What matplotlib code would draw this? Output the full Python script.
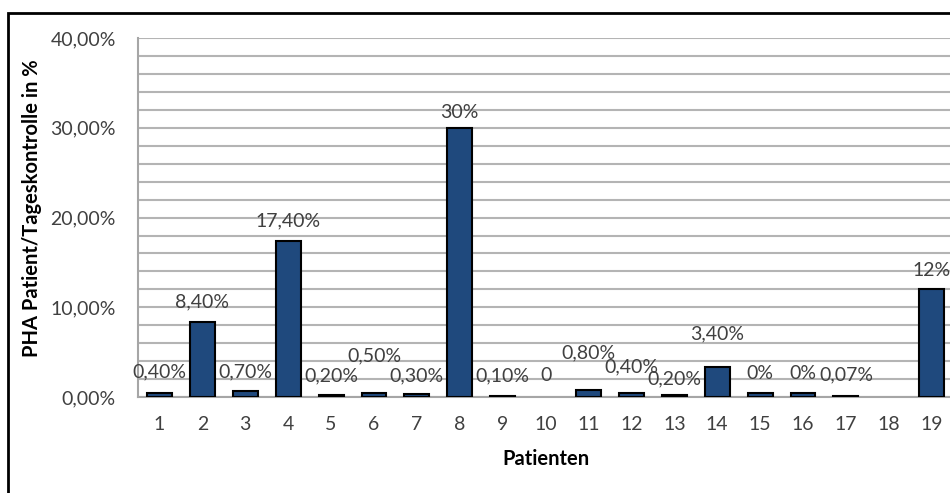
import matplotlib
matplotlib.use('Agg')
import matplotlib.pyplot as plt
from matplotlib.patches import Rectangle
from matplotlib.ticker import MultipleLocator, FuncFormatter

plt.rcParams['font.family'] = ['Lato', 'DejaVu Sans']

patients = list(range(1, 20))
# PHA patient / daily control ratio, in percent (patient 18 has no value)
values = [0.40, 8.40, 0.70, 17.40, 0.20, 0.50, 0.30, 30.0, 0.10, 0.0,
          0.80, 0.40, 0.20, 3.40, 0.40, 0.40, 0.07, None, 12.0]
labels = ['0,40%', '8,40%', '0,70%', '17,40%', '0,20%', '0,50%', '0,30%', '30%',
          '0,10%', '0', '0,80%', '0,40%', '0,20%', '3,40%', '0%', '0%', '0,07%',
          '', '12%']

# height (in %) where each data label sits, nudged by hand so they don't collide
label_y = [2.8, 10.6, 2.8, 19.6, 2.35, 4.6, 2.35, 31.75, 2.35, 2.35,
           4.9, 3.35, 2.0, 7.0, 2.65, 2.65, 2.45, 0, 14.15]

fig = plt.figure(figsize=(9.5, 4.93), dpi=100)
ax = fig.add_axes([0.1453, 0.1947, 0.858, 0.728])

# empty and zero entries get no bar at all
bx = [p for p, v in zip(patients, values) if v]
bh = [v for v in values if v]
ax.bar(bx, bh, width=0.58, color='#1F497D', edgecolor='black',
       linewidth=1.5, zorder=3)

for x, txt, y in zip(patients, labels, label_y):
    if txt:
        ax.text(x, y, txt, ha='center', va='center', fontsize=14,
                color='#404040', zorder=4)

ax.set_xlim(0.5, 19.5)
ax.set_ylim(0, 40)
ax.yaxis.set_major_locator(MultipleLocator(10))
ax.yaxis.set_minor_locator(MultipleLocator(2))
ax.yaxis.set_major_formatter(FuncFormatter(lambda v, p: f'{v:.2f}%'.replace('.', ',')))
ax.set_xticks(patients)
ax.grid(axis='y', which='both', color='#b4b4b4', linewidth=1.5, zorder=0)

for side in ['top', 'right']:
    ax.spines[side].set_visible(False)
for side in ['left', 'bottom']:
    ax.spines[side].set_color('#a6a6a6')
    ax.spines[side].set_linewidth(1.5)

ax.tick_params(axis='both', which='both', length=0, labelsize=14,
               labelcolor='#404040')
ax.tick_params(axis='y', pad=16)
ax.tick_params(axis='x', pad=14)

ax.set_xlabel('Patienten', fontsize=14.5, fontweight='bold', va='center')
ax.xaxis.set_label_coords(0.5, -0.173)
ax.set_ylabel('PHA Patient/Tageskontrolle in %', fontsize=14.5,
              fontweight='bold', va='center')
ax.yaxis.set_label_coords(-0.1307, 0.526)

# outer chart frame
fig.patches.append(Rectangle((8 / 950, -0.1), 1.2, (493 - 13) / 493 + 0.1,
                             transform=fig.transFigure, fill=False,
                             edgecolor='black', linewidth=2, zorder=10))

fig.savefig('out.png', dpi=100)
